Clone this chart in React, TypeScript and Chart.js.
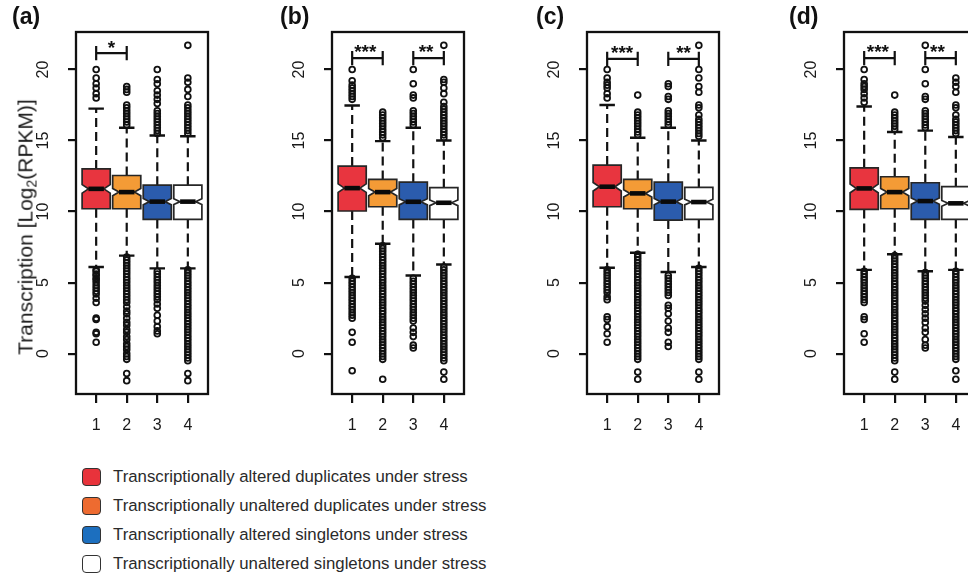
import React, { useEffect, useRef } from "react";
import { Chart, registerables } from "chart.js";

Chart.register(...registerables);

const FONT = '"Liberation Sans", Arial, Helvetica, sans-serif';

// ---------- shared data ----------
const groupLabels = ["1", "2", "3", "4"];
const groupPositions = [1, 2, 3, 4];
const yTickValues = [0, 5, 10, 15, 20];
const panelNames = ["(a)", "(b)", "(c)", "(d)"];
const legendLabels = [
  "Transcriptionally altered duplicates under stress",
  "Transcriptionally unaltered duplicates under stress",
  "Transcriptionally altered singletons under stress",
  "Transcriptionally unaltered singletons under stress",
];
const yTitle = "Transcription [Log";
const yTitleSub = "2";
const yTitleEnd = "(RPKM)]";

// ---------- panel (a) ----------
const aLowerWhisker = [6.1, 6.9, 6.0, 6.0];
const aQ1 = [10.2, 10.2, 9.45, 9.45];
const aMedian = [11.6, 11.37, 10.7, 10.7];
const aQ3 = [13.0, 12.54, 11.86, 11.86];
const aUpperWhisker = [17.25, 15.9, 15.35, 15.3];
const aNotch = [0.3, 0.25, 0.22, 0.2];
const aOutliers = [
  [20.0, 19.4, 19.0, 18.7, 18.3, 18.0, 5.9, 5.8, 5.6, 5.5, 5.3, 5.2, 5.0, 4.8, 4.6, 4.4, 4.2, 3.9, 3.6, 2.5, 2.4, 1.5, 1.4, 0.8],
  [18.8, 18.6, 18.4, 17.5, 17.3, 17.1, 16.9, 16.7, 16.5, 16.3, 16.1, 6.8, 6.6, 6.4, 6.2, 6.0, 5.8, 5.6, 5.4, 5.2, 5.0, 4.8, 4.6, 4.4, 4.2, 4.0, 3.8, 3.6, 3.3, 3.0, 2.8, 2.5, 2.2, 2.0, 1.7, 1.5, 1.2, 1.0, 0.7, 0.5, 0.3, 0.0, -0.2, -0.4, -1.4, -1.9],
  [20.0, 19.3, 19.0, 18.5, 18.2, 17.9, 17.6, 17.1, 16.9, 16.7, 16.5, 16.3, 16.1, 15.9, 15.7, 15.5, 5.8, 5.6, 5.4, 5.2, 5.0, 4.8, 4.6, 4.4, 4.2, 4.0, 3.8, 3.5, 3.2, 2.7, 2.3, 1.9, 1.6, 1.4],
  [21.7, 19.4, 19.1, 18.6, 18.1, 17.5, 17.3, 17.1, 16.9, 16.7, 16.5, 16.3, 16.1, 15.9, 15.7, 15.5, 5.9, 5.7, 5.5, 5.3, 5.1, 4.9, 4.7, 4.5, 4.3, 4.1, 3.9, 3.7, 3.5, 3.3, 3.1, 2.9, 2.7, 2.5, 2.3, 2.1, 1.9, 1.7, 1.5, 1.3, 1.1, 0.9, 0.7, 0.5, 0.3, 0.1, -0.1, -0.3, -0.5, -1.4, -1.9],
];
const aSignificance: [number, number, string, number, number][] = [[1, 2, "*", 1.5, 21.15]];

// ---------- panel (b) ----------
const bLowerWhisker = [5.4, 7.74, 5.5, 6.28];
const bQ1 = [10.04, 10.34, 9.45, 9.45];
const bMedian = [11.65, 11.37, 10.69, 10.62];
const bQ3 = [13.2, 12.26, 12.07, 11.68];
const bUpperWhisker = [17.47, 14.96, 15.9, 15.0];
const bNotch = [0.3, 0.25, 0.22, 0.2];
const bOutliers = [
  [20.0, 19.2, 18.9, 18.7, 18.5, 18.3, 18.1, 17.9, 5.3, 5.1, 4.9, 4.7, 4.5, 4.3, 4.1, 3.9, 3.7, 3.5, 3.3, 3.1, 2.9, 2.7, 2.5, 1.5, 0.8, -1.2],
  [17.0, 16.8, 16.6, 16.4, 16.2, 16.0, 15.8, 15.6, 15.4, 15.2, 7.6, 7.4, 7.2, 7.0, 6.8, 6.6, 6.4, 6.2, 6.0, 5.8, 5.6, 5.4, 5.2, 5.0, 4.8, 4.6, 4.4, 4.2, 4.0, 3.8, 3.6, 3.4, 3.2, 3.0, 2.8, 2.6, 2.4, 2.2, 2.0, 1.8, 1.6, 1.4, 1.2, 1.0, 0.8, 0.6, 0.4, 0.2, 0.0, -0.2, -0.4, -1.8],
  [20.0, 19.0, 18.2, 18.0, 17.1, 16.9, 16.7, 16.5, 16.3, 16.1, 5.3, 5.1, 4.9, 4.7, 4.5, 4.3, 4.1, 3.9, 3.7, 3.5, 3.3, 3.1, 2.9, 2.7, 2.5, 2.3, 1.8, 1.5, 1.2, 0.6, 0.4],
  [21.7, 19.3, 19.1, 18.7, 18.3, 17.7, 17.4, 17.2, 17.0, 16.8, 16.6, 16.4, 16.2, 16.0, 15.8, 15.6, 15.4, 15.2, 6.1, 5.9, 5.7, 5.5, 5.3, 5.1, 4.9, 4.7, 4.5, 4.3, 4.1, 3.9, 3.7, 3.5, 3.3, 3.1, 2.9, 2.7, 2.5, 2.3, 2.1, 1.9, 1.7, 1.5, 1.3, 1.1, 0.9, 0.7, 0.5, 0.3, 0.1, -0.1, -0.3, -0.5, -1.3, -1.8],
];
const bSignificance: [number, number, string, number, number][] = [
  [1, 2, "***", 1.43, 20.8],
  [3, 4, "**", 3.42, 20.8],
];

// ---------- panel (c) ----------
const cLowerWhisker = [6.05, 7.1, 5.75, 6.1];
const cQ1 = [10.34, 10.2, 9.4, 9.45];
const cMedian = [11.75, 11.28, 10.7, 10.67];
const cQ3 = [13.27, 12.26, 12.07, 11.7];
const cUpperWhisker = [17.5, 15.2, 15.9, 15.0];
const cNotch = [0.3, 0.25, 0.22, 0.2];
const cOutliers = [
  [20.0, 19.4, 19.1, 18.9, 18.7, 18.3, 18.0, 5.9, 5.7, 5.5, 5.3, 5.1, 4.9, 4.7, 4.5, 4.3, 4.0, 3.8, 2.6, 2.4, 1.9, 1.4, 0.8],
  [18.2, 17.0, 16.8, 16.6, 16.4, 16.2, 16.0, 15.8, 15.6, 15.4, 7.0, 6.8, 6.6, 6.4, 6.2, 6.0, 5.8, 5.6, 5.4, 5.2, 5.0, 4.8, 4.6, 4.4, 4.2, 4.0, 3.8, 3.6, 3.4, 3.2, 3.0, 2.8, 2.6, 2.4, 2.2, 2.0, 1.8, 1.6, 1.4, 1.2, 1.0, 0.8, 0.6, 0.4, 0.2, 0.0, -0.2, -0.4, -1.3, -1.8],
  [19.0, 18.8, 18.1, 17.9, 17.1, 16.9, 16.7, 16.5, 16.3, 16.1, 5.5, 5.3, 5.1, 4.9, 4.7, 4.5, 4.3, 4.1, 3.4, 3.2, 2.8, 2.3, 1.8, 1.5, 0.8, 0.5],
  [21.7, 20.0, 19.4, 18.8, 18.4, 17.5, 17.3, 16.8, 16.5, 16.3, 16.1, 15.9, 15.7, 15.5, 15.3, 6.0, 5.8, 5.6, 5.4, 5.2, 5.0, 4.8, 4.6, 4.4, 4.2, 4.0, 3.8, 3.6, 3.4, 3.2, 3.0, 2.8, 2.6, 2.4, 2.2, 2.0, 1.8, 1.6, 1.4, 1.2, 1.0, 0.8, 0.6, 0.4, 0.2, 0.0, -0.2, -0.4, -1.3, -1.8],
];
const cSignificance: [number, number, string, number, number][] = [
  [1, 2, "***", 1.49, 20.75],
  [3, 4, "**", 3.5, 20.75],
];

// ---------- panel (d) ----------
const dLowerWhisker = [5.9, 7.0, 5.8, 5.9];
const dQ1 = [10.15, 10.2, 9.45, 9.45];
const dMedian = [11.63, 11.37, 10.74, 10.58];
const dQ3 = [13.08, 12.45, 12.03, 11.75];
const dUpperWhisker = [17.4, 15.6, 15.7, 15.25];
const dNotch = [0.3, 0.25, 0.22, 0.2];
const dOutliers = [
  [20.0, 19.3, 19.0, 18.8, 18.6, 18.3, 18.0, 17.7, 5.8, 5.6, 5.4, 5.2, 5.0, 4.8, 4.6, 4.4, 4.2, 4.0, 3.8, 3.6, 2.6, 2.4, 1.4, 0.8],
  [18.2, 17.0, 16.8, 16.6, 16.4, 16.2, 16.0, 15.8, 6.9, 6.7, 6.5, 6.3, 6.1, 5.9, 5.7, 5.5, 5.3, 5.1, 4.9, 4.7, 4.5, 4.3, 4.1, 3.9, 3.7, 3.5, 3.3, 3.1, 2.9, 2.7, 2.5, 2.3, 2.1, 1.9, 1.7, 1.5, 1.3, 1.1, 0.9, 0.7, 0.5, 0.3, 0.1, -0.1, -0.3, -0.5, -1.3, -1.8],
  [21.7, 20.0, 19.0, 18.1, 17.9, 17.1, 16.9, 16.7, 16.5, 16.3, 16.1, 15.9, 5.7, 5.5, 5.3, 5.1, 4.9, 4.7, 4.5, 4.3, 4.1, 3.9, 3.7, 3.4, 3.1, 2.8, 2.5, 2.2, 1.8, 1.5, 1.0, 0.6, 0.4],
  [19.4, 19.1, 18.8, 18.4, 17.5, 17.3, 16.8, 16.5, 16.3, 16.1, 15.9, 15.7, 15.5, 5.8, 5.6, 5.4, 5.2, 5.0, 4.8, 4.6, 4.4, 4.2, 4.0, 3.8, 3.6, 3.4, 3.2, 3.0, 2.8, 2.6, 2.4, 2.2, 2.0, 1.8, 1.6, 1.4, 1.2, 1.0, 0.8, 0.6, 0.4, 0.2, 0.0, -0.2, -0.4, -1.2, -1.8],
];
const dSignificance: [number, number, string, number, number][] = [
  [1, 2, "***", 1.45, 20.8],
  [3, 4, "**", 3.4, 20.8],
];

// ---------- styles ----------
const boxColors = ["#e8353f", "#f49b36", "#2b5cad", "#ffffff"];
const legendColors = ["#e8333b", "#ee6b30", "#1c6fbf", "#ffffff"];
const panelBoxLefts = [76, 332, 587, 844];
const panelLabelLefts = [12, 280, 536, 789];

const X_MIN = 0.34;
const X_MAX = 4.66;
const Y_MIN = -2.84;
const Y_MAX = 22.64;
const BOX_WIDTH = 0.92;
const Y_AXIS_W = 70;
const X_AXIS_H = 46;
const PAD_TOP = 30;
const PAD_RIGHT = 20;
const AREA_W = 132;
const AREA_H = 362;
const CANVAS_W = Y_AXIS_W + AREA_W + PAD_RIGHT;
const CANVAS_H = PAD_TOP + AREA_H + X_AXIS_H;
const CANVAS_TOP = 2;

type PanelData = {
  low: number[];
  q1: number[];
  med: number[];
  q3: number[];
  high: number[];
  notch: number[];
  outliers: number[][];
  sig: [number, number, string, number, number][];
};

const panels: PanelData[] = [
  { low: aLowerWhisker, q1: aQ1, med: aMedian, q3: aQ3, high: aUpperWhisker, notch: aNotch, outliers: aOutliers, sig: aSignificance },
  { low: bLowerWhisker, q1: bQ1, med: bMedian, q3: bQ3, high: bUpperWhisker, notch: bNotch, outliers: bOutliers, sig: bSignificance },
  { low: cLowerWhisker, q1: cQ1, med: cMedian, q3: cQ3, high: cUpperWhisker, notch: cNotch, outliers: cOutliers, sig: cSignificance },
  { low: dLowerWhisker, q1: dQ1, med: dMedian, q3: dQ3, high: dUpperWhisker, notch: dNotch, outliers: dOutliers, sig: dSignificance },
];

function makeBoxPlugin(p: PanelData) {
  return {
    id: "notchedBoxes",
    beforeDatasetsDraw(chart: any) {
      const { ctx, scales } = chart;
      const xs = scales.x;
      const ys = scales.y;
      const unit = xs.getPixelForValue(1) - xs.getPixelForValue(0);
      const w = BOX_WIDTH * unit;
      const half = w / 2;
      const inner = w * 0.275;
      ctx.save();
      groupPositions.forEach((gx, g) => {
        const cx = xs.getPixelForValue(gx);
        const yLow = ys.getPixelForValue(p.low[g]);
        const yQ1 = ys.getPixelForValue(p.q1[g]);
        const yMed = ys.getPixelForValue(p.med[g]);
        const yQ3 = ys.getPixelForValue(p.q3[g]);
        const yHigh = ys.getPixelForValue(p.high[g]);
        const yNLo = ys.getPixelForValue(p.med[g] - p.notch[g]);
        const yNHi = ys.getPixelForValue(p.med[g] + p.notch[g]);
        // whiskers (dashed)
        ctx.strokeStyle = "#111";
        ctx.lineWidth = 2.2;
        ctx.setLineDash([9, 5]);
        ctx.beginPath();
        ctx.moveTo(cx, yQ3);
        ctx.lineTo(cx, yHigh);
        ctx.moveTo(cx, yQ1);
        ctx.lineTo(cx, yLow);
        ctx.stroke();
        ctx.setLineDash([]);
        // staples
        ctx.lineWidth = 2.4;
        ctx.beginPath();
        ctx.moveTo(cx - inner, yHigh);
        ctx.lineTo(cx + inner, yHigh);
        ctx.moveTo(cx - inner, yLow);
        ctx.lineTo(cx + inner, yLow);
        ctx.stroke();
        // notched box
        ctx.beginPath();
        ctx.moveTo(cx - half, yQ1);
        ctx.lineTo(cx - half, yNLo);
        ctx.lineTo(cx - inner, yMed);
        ctx.lineTo(cx - half, yNHi);
        ctx.lineTo(cx - half, yQ3);
        ctx.lineTo(cx + half, yQ3);
        ctx.lineTo(cx + half, yNHi);
        ctx.lineTo(cx + inner, yMed);
        ctx.lineTo(cx + half, yNLo);
        ctx.lineTo(cx + half, yQ1);
        ctx.closePath();
        ctx.fillStyle = boxColors[g];
        ctx.fill();
        ctx.strokeStyle = "#262626";
        ctx.lineWidth = 1.7;
        ctx.stroke();
        // median
        ctx.strokeStyle = "#0a0a0a";
        ctx.lineWidth = 4.6;
        ctx.lineCap = "butt";
        ctx.beginPath();
        ctx.moveTo(cx - inner, yMed);
        ctx.lineTo(cx + inner, yMed);
        ctx.stroke();
      });
      ctx.restore();
    },
    afterDraw(chart: any) {
      const { ctx, chartArea, scales } = chart;
      const xs = scales.x;
      const ys = scales.y;
      ctx.save();
      ctx.strokeStyle = "#111";
      ctx.lineWidth = 2.3;
      ctx.strokeRect(chartArea.left, chartArea.top, chartArea.right - chartArea.left, chartArea.bottom - chartArea.top);
      p.sig.forEach(([from, to, label, labelX, level]) => {
        const x1 = xs.getPixelForValue(from);
        const x2 = xs.getPixelForValue(to);
        const yb = ys.getPixelForValue(level);
        const yTop = ys.getPixelForValue(level + 0.5);
        const yBot = ys.getPixelForValue(level - 0.5);
        ctx.lineWidth = 2.2;
        ctx.beginPath();
        ctx.moveTo(x1, yb);
        ctx.lineTo(x2, yb);
        ctx.moveTo(x1, yTop);
        ctx.lineTo(x1, yBot);
        ctx.moveTo(x2, yTop);
        ctx.lineTo(x2, yBot);
        ctx.stroke();
        ctx.fillStyle = "#111";
        ctx.font = `bold 19px ${FONT}`;
        ctx.textAlign = "center";
        ctx.textBaseline = "alphabetic";
        ctx.fillText(label, xs.getPixelForValue(labelX), ys.getPixelForValue(level + 0.75) + 11);
      });
      ctx.restore();
    },
  };
}

function Panel({ p, left }: { p: PanelData; left: number }) {
  const ref = useRef<HTMLCanvasElement | null>(null);
  useEffect(() => {
    if (!ref.current) return;
    const datasets = p.outliers.map((vals, g) => ({
      label: groupLabels[g],
      data: vals.map((v) => ({ x: groupPositions[g], y: v })),
      pointRadius: 2.9,
      pointBorderWidth: 1.8,
      pointBackgroundColor: "rgba(0,0,0,0)",
      pointBorderColor: "#111",
      pointStyle: "circle",
      showLine: false,
    }));
    const gridOpts = (tl: number) => ({
      display: true,
      drawOnChartArea: false,
      drawTicks: true,
      tickLength: tl,
      color: "#111",
      lineWidth: 2.2,
    });
    const chart = new Chart(ref.current, {
      type: "scatter",
      data: { datasets } as any,
      options: {
        responsive: false,
        animation: false,
        events: [],
        layout: { padding: { top: PAD_TOP, right: PAD_RIGHT, left: 0, bottom: 0 } },
        plugins: {
          legend: { display: false },
          tooltip: { enabled: false },
          title: { display: false },
        },
        scales: {
          x: {
            type: "linear",
            position: "bottom",
            min: X_MIN,
            max: X_MAX,
            afterBuildTicks: (s: any) => {
              s.ticks = groupPositions.map((v) => ({ value: v }));
            },
            afterFit: (s: any) => {
              s.height = X_AXIS_H;
            },
            grid: gridOpts(9),
            border: { display: false },
            ticks: {
              color: "#1a1a1a",
              font: { family: FONT, size: 16 },
              padding: 13,
              autoSkip: false,
              maxRotation: 0,
              callback: (v: any) => {
                const i = groupPositions.indexOf(Number(v));
                return i >= 0 ? groupLabels[i] : "";
              },
            },
          },
          y: {
            type: "linear",
            position: "left",
            min: Y_MIN,
            max: Y_MAX,
            afterBuildTicks: (s: any) => {
              s.ticks = yTickValues.map((v) => ({ value: v }));
            },
            afterFit: (s: any) => {
              s.width = Y_AXIS_W;
            },
            grid: gridOpts(8),
            border: { display: false },
            ticks: {
              color: "#1a1a1a",
              font: { family: FONT, size: 16 },
              padding: 16,
              autoSkip: false,
              minRotation: 90,
              maxRotation: 90,
              crossAlign: "center",
              callback: (v: any) => String(v),
            },
          },
        },
      } as any,
      plugins: [makeBoxPlugin(p)],
    });
    return () => chart.destroy();
  }, [p]);
  return (
    <canvas
      ref={ref}
      width={CANVAS_W}
      height={CANVAS_H}
      style={{ position: "absolute", left: left - Y_AXIS_W, top: CANVAS_TOP, width: CANVAS_W, height: CANVAS_H }}
    />
  );
}

export default function App() {
  return (
    <div
      style={{
        position: "absolute",
        left: 0,
        top: 0,
        width: 968,
        height: 580,
        overflow: "hidden",
        background: "#ffffff",
        fontFamily: FONT,
        color: "#222",
      }}
    >
      {panels.map((p, i) => (
        <Panel key={i} p={p} left={panelBoxLefts[i]} />
      ))}
      {panelNames.map((n, i) => (
        <div
          key={n}
          style={{
            position: "absolute",
            left: panelLabelLefts[i],
            top: 5,
            fontSize: 23,
            fontWeight: "bold",
            lineHeight: 1,
            color: "#111",
          }}
        >
          {n}
        </div>
      ))}
      <div
        style={{
          position: "absolute",
          left: 25,
          top: 227,
          transform: "translate(-50%, -50%) rotate(-90deg)",
          whiteSpace: "nowrap",
          fontSize: 21,
          lineHeight: 1,
          color: "#1a1a1a",
        }}
      >
        {yTitle}
        <sub style={{ fontSize: 14, verticalAlign: "-4px", lineHeight: 0 }}>{yTitleSub}</sub>
        {yTitleEnd}
      </div>
      {legendLabels.map((lab, i) => (
        <div
          key={lab}
          style={{
            position: "absolute",
            left: 82,
            top: 477 + i * 28.9 - 11,
            height: 22,
            display: "flex",
            alignItems: "center",
            whiteSpace: "nowrap",
          }}
        >
          <div
            style={{
              width: 19,
              height: 18,
              boxSizing: "border-box",
              border: "1.4px solid #333",
              borderRadius: 4,
              background: legendColors[i],
              marginRight: 12,
            }}
          />
          <span style={{ fontSize: 16.8, color: "#2a2a2a" }}>{lab}</span>
        </div>
      ))}
    </div>
  );
}
